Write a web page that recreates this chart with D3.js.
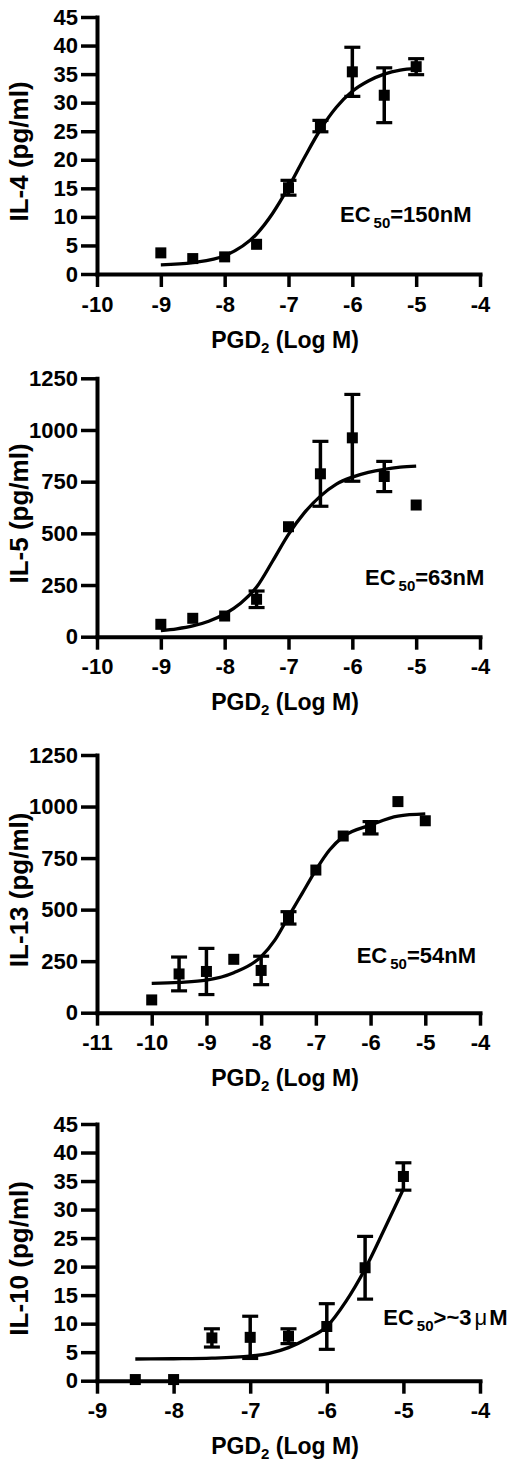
<!DOCTYPE html>
<html>
<head>
<meta charset="utf-8">
<script src="https://cdn.jsdelivr.net/npm/d3@7"></script>
<style>
  body { margin: 0; background: #fff; }
  svg { display: block; }
  text { font-family: "Liberation Sans", Arial, sans-serif; font-weight: bold; fill: #000; }
</style>
</head>
<body>
<div id="chart"></div>
<script>
// IL-4
const il4Dose = [-9, -8.5, -8, -7.5, -7, -6.5, -6, -5.5, -5];
const il4Mean = [3.7, 2.7, 3.0, 5.2, 15.1, 25.9, 35.4, 31.3, 36.3];
const il4Sem = [0, 0, 0, 0, 1.3, 1.0, 4.3, 4.8, 1.4];
const il4FitDose = [-9, -8.5, -8, -7.5, -7.25, -7, -6.75, -6.5, -6.25, -6, -5.75, -5.5, -5.25, -5];
const il4Fit = [1.6, 2.0, 3.2, 7.0, 10.6, 15.2, 20.4, 25.3, 29.2, 32.0, 33.8, 35.0, 35.7, 36.0];

// IL-5
const il5Dose = [-9, -8.5, -8, -7.5, -7, -6.5, -6, -5.5, -5];
const il5Mean = [60, 89, 100, 181, 532, 788, 962, 775, 637];
const il5Sem = [0, 0, 0, 40, 0, 157, 210, 73, 0];
const il5FitDose = [-9, -8.75, -8.5, -8.25, -8, -7.75, -7.5, -7.25, -7, -6.75, -6.5, -6.25, -6, -5.75, -5.5, -5.25, -5];
const il5Fit = [29, 38, 52, 75, 110, 162, 240, 365, 495, 600, 680, 738, 772, 795, 810, 820, 825];

// IL-13
const il13Dose = [-10, -9.5, -9, -8.5, -8, -7.5, -7, -6.5, -6, -5.5, -5];
const il13Mean = [62, 188, 200, 259, 205, 460, 692, 857, 897, 1024, 931];
const il13Sem = [0, 82, 112, 0, 69, 30, 0, 0, 30, 0, 0];
const il13FitDose = [-10, -9.5, -9, -8.5, -8, -7.75, -7.5, -7.25, -7, -6.75, -6.5, -6, -5.5, -5];
const il13Fit = [142, 147, 158, 194, 272, 352, 466, 579, 692, 789, 854, 910, 954, 964];

// IL-10
const il10Dose = [-8.5, -8, -7.5, -7, -6.5, -6, -5.5, -5];
const il10Mean = [0.2, 0.2, 7.5, 7.6, 7.8, 9.5, 19.8, 35.8];
const il10Sem = [0, 0, 1.6, 3.7, 1.3, 4.0, 5.5, 2.4];
const il10FitDose = [-8.5, -8, -7.5, -7, -6.75, -6.5, -6.25, -6, -5.75, -5.5, -5.25, -5];
const il10Fit = [3.8, 3.85, 3.95, 4.3, 4.8, 5.8, 7.4, 9.5, 13.9, 19.6, 26.5, 33.6];

// axes
const xTicksA = [-10, -9, -8, -7, -6, -5, -4];
const xTicksB = [-11, -10, -9, -8, -7, -6, -5, -4];
const xTicksC = [-9, -8, -7, -6, -5, -4];
const yTicksPg = [0, 5, 10, 15, 20, 25, 30, 35, 40, 45];
const yTicksK = [0, 250, 500, 750, 1000, 1250];

const yLabels = ["IL-4 (pg/ml)", "IL-5 (pg/ml)", "IL-13 (pg/ml)", "IL-10 (pg/ml)"];
const ecValues = ["=150nM", "=63nM", "=54nM", ">~3"];

const width = 520, height = 1469;

const panels = [
  { dose: il4Dose, mean: il4Mean, sem: il4Sem, fitDose: il4FitDose, fit: il4Fit,
    xTicks: xTicksA, yTicks: yTicksPg, top: 17, bottom: 274, ec: [340, 221.7] },
  { dose: il5Dose, mean: il5Mean, sem: il5Sem, fitDose: il5FitDose, fit: il5Fit,
    xTicks: xTicksA, yTicks: yTicksK, top: 378.3, bottom: 636.7, ec: [365, 585] },
  { dose: il13Dose, mean: il13Mean, sem: il13Sem, fitDose: il13FitDose, fit: il13Fit,
    xTicks: xTicksB, yTicks: yTicksK, top: 755, bottom: 1012.7, ec: [356.7, 963.3] },
  { dose: il10Dose, mean: il10Mean, sem: il10Sem, fitDose: il10FitDose, fit: il10Fit,
    xTicks: xTicksC, yTicks: yTicksPg, top: 1124, bottom: 1380.7, ec: [383.3, 1325] }
];

const svg = d3.select("#chart")
  .append("svg")
  .attr("width", width)
  .attr("height", height)
  .attr("viewBox", [0, 0, width, height]);

panels.forEach((p, i) => {
  const x = d3.scaleLinear()
    .domain(d3.extent(p.xTicks))
    .range([97, 480]);

  const y = d3.scaleLinear()
    .domain(d3.extent(p.yTicks))
    .range([p.bottom, p.top]);

  const g = svg.append("g");

  // y axis
  const ya = g.append("g")
    .attr("transform", "translate(97,0)")
    .call(d3.axisLeft(y).tickValues(p.yTicks).tickFormat(d => String(d))
      .tickSize(16).tickSizeOuter(0).tickPadding(3));

  // x axis
  const xa = g.append("g")
    .attr("transform", `translate(0,${p.bottom})`)
    .call(d3.axisBottom(x).tickValues(p.xTicks).tickFormat(d => String(d))
      .tickSize(13).tickSizeOuter(0).tickPadding(9));

  [ya, xa].forEach(a => {
    a.select(".domain").attr("stroke", "#000").attr("stroke-width", 4).attr("stroke-linecap", "square");
    a.selectAll(".tick line").attr("stroke", "#000").attr("stroke-width", 3.5);
    a.selectAll(".tick text").attr("fill", "#000").style("font-size", "22px");
  });

  // axis titles
  g.append("text")
    .attr("transform", `translate(28,${(p.top + p.bottom) / 2 + 6}) rotate(-90)`)
    .attr("text-anchor", "middle")
    .style("font-size", "26px")
    .text(yLabels[i]);

  const xt = g.append("text")
    .attr("x", 285)
    .attr("y", p.bottom + 73.5)
    .attr("text-anchor", "middle")
    .style("font-size", "23px");
  xt.append("tspan").text("PGD");
  xt.append("tspan").attr("dy", 5).style("font-size", "15px").text("2");
  xt.append("tspan").attr("dy", -5).text(" (Log M)");

  // fitted curve
  const line = d3.line()
    .x(d => x(d[0]))
    .y(d => y(d[1]))
    .curve(d3.curveMonotoneX);

  g.append("path")
    .datum(d3.zip(p.fitDose, p.fit))
    .attr("d", line)
    .attr("fill", "none")
    .attr("stroke", "#000")
    .attr("stroke-width", 3.3);

  const pts = d3.zip(p.dose, p.mean, p.sem).map(([dose, mean, sem]) => ({ dose, mean, sem }));

  // error bars
  const eb = g.append("g")
    .selectAll("g")
    .data(pts.filter(d => d.sem > 0))
    .join("g")
    .attr("stroke", "#000");

  eb.append("line")
    .attr("x1", d => x(d.dose))
    .attr("x2", d => x(d.dose))
    .attr("y1", d => y(d.mean - d.sem))
    .attr("y2", d => y(d.mean + d.sem))
    .attr("stroke-width", 3.5);

  eb.selectAll("line.cap")
    .data(d => [d.mean - d.sem, d.mean + d.sem].map(v => ({ dose: d.dose, v })))
    .join("line")
    .attr("class", "cap")
    .attr("x1", d => x(d.dose) - 8)
    .attr("x2", d => x(d.dose) + 8)
    .attr("y1", d => y(d.v))
    .attr("y2", d => y(d.v))
    .attr("stroke-width", 3.2);

  // markers
  g.append("g")
    .selectAll("rect")
    .data(pts)
    .join("rect")
    .attr("x", d => x(d.dose) - 5.5)
    .attr("y", d => y(d.mean) - 5.5)
    .attr("width", 11)
    .attr("height", 11)
    .attr("fill", "#000");

  // EC50 annotation
  const ec = g.append("text")
    .attr("x", p.ec[0])
    .attr("y", p.ec[1])
    .style("font-size", "22px");
  ec.append("tspan").text("EC");
  ec.append("tspan").attr("dx", 3).attr("dy", 6).style("font-size", "15px").text("50");
  ec.append("tspan").attr("dy", -6).text(ecValues[i]);
  if (i === 3) {
    ec.append("tspan").attr("dx", 3).style("font-weight", "normal").text("μ");
    ec.append("tspan").attr("dx", 2).text("M");
  }
});
</script>
</body>
</html>
